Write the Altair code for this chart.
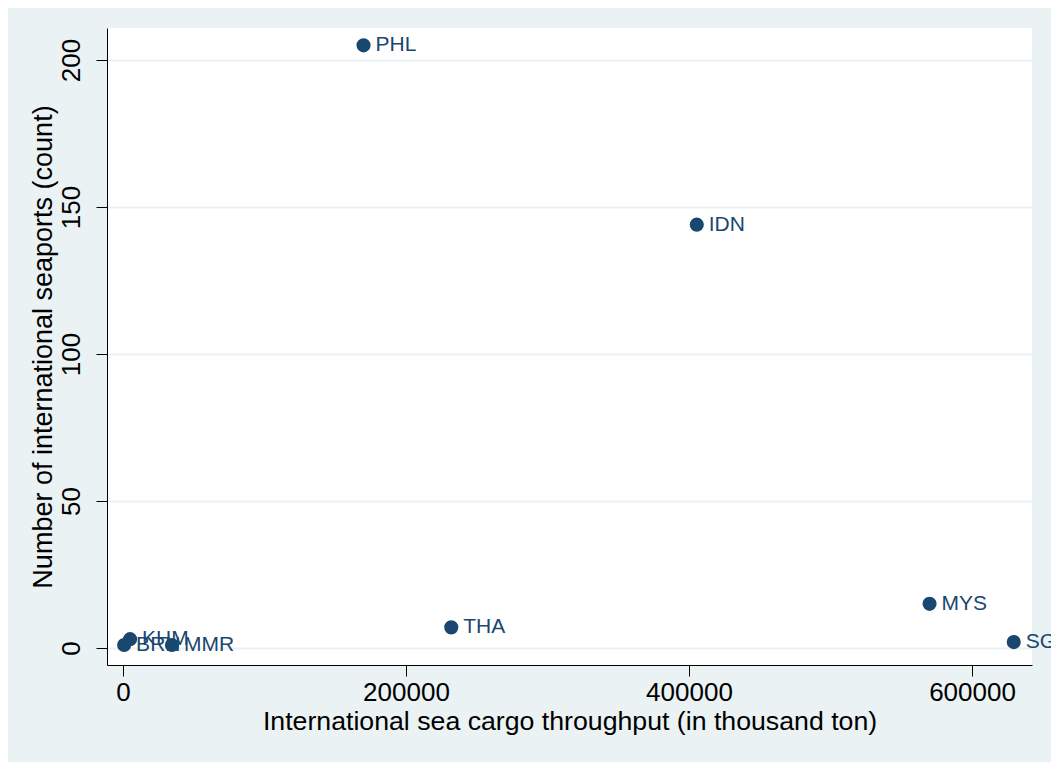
import altair as alt
import pandas as pd

countries = ["PHL", "IDN", "MYS", "SGP", "THA", "KHM", "BRN", "MMR"]
cargo = [170000, 405500, 570000, 629500, 232000, 5000, 800, 34600]
seaports = [205, 144, 15, 2, 7, 3, 1, 1]

df = pd.DataFrame({"country": countries, "cargo": cargo, "ports": seaports})

navy = "#1a476f"
bg = "#eaf2f3"

x = alt.X("cargo:Q",
          scale=alt.Scale(domain=[-11300, 642400], nice=False, zero=False),
          axis=alt.Axis(title="International sea cargo throughput (in thousand ton)",
                        values=[0, 200000, 400000, 600000], format="d",
                        grid=False, domainColor="black", tickColor="black",
                        tickSize=11, labelFontSize=26, titleFontSize=26.7,
                        labelPadding=3, titlePadding=3, labelColor="black",
                        titleColor="black", titleFontWeight="normal",
                        labelFlush=False))
y = alt.Y("ports:Q",
          scale=alt.Scale(domain=[-5.8, 210.9], nice=False, zero=False),
          axis=alt.Axis(title="Number of international seaports (count)",
                        values=[0, 50, 100, 150, 200], format="d",
                        grid=True, gridColor=bg, gridWidth=2,
                        domainColor="black", tickColor="black",
                        tickSize=11, labelFontSize=26, titleFontSize=27,
                        labelAngle=270, labelPadding=12, titlePadding=1,
                        labelColor="black", titleColor="black",
                        titleFontWeight="normal", labelFlush=False))

base = alt.Chart(df).encode(x=x, y=y)
points = base.mark_circle(size=200, color=navy, opacity=1)
labels = base.mark_text(align="left", baseline="middle", dx=12, fontSize=21,
                        color=navy, font="Liberation Sans").encode(text="country:N")

chart = alt.layer(points, labels).properties(
    width=925, height=637,
    autosize=alt.AutoSizeParams(type="none"),
    padding={"left": 99, "top": 20, "right": 19, "bottom": 97},
    background=bg,
    view=alt.ViewBackground(fill="white", strokeWidth=0),
).configure_view(fill="white", strokeWidth=0).configure(
    font="Liberation Sans"
).configure_axis(labelFont="Liberation Sans", titleFont="Liberation Sans",
                 labelFontSize=26)

chart.save("out.html", embed_options={"renderer": "svg", "actions": False})
